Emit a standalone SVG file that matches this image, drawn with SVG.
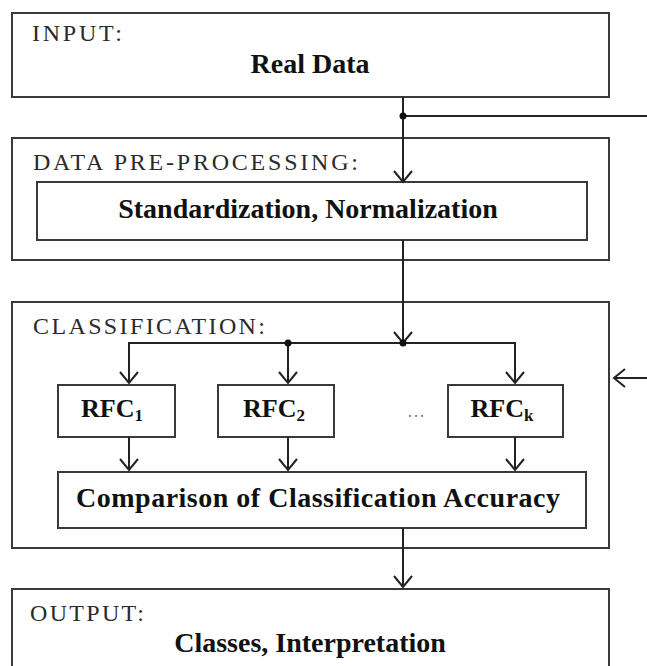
<svg xmlns="http://www.w3.org/2000/svg" width="647" height="666" viewBox="0 0 647 666">
<style>
.box{fill:#fff;stroke:#3a3a3a;stroke-width:2}
.lbl{font-family:"Liberation Serif",serif;font-size:24px;fill:#2a2a2a}
.main{font-family:"Liberation Serif",serif;font-size:28px;font-weight:bold;fill:#111;text-anchor:middle}
.rfc{font-family:"Liberation Serif",serif;font-size:26px;font-weight:bold;fill:#111;text-anchor:middle}
.sub{font-size:17px}
.conn{fill:none;stroke:#222;stroke-width:2}
.dot{fill:#111}
</style>
<defs>
<marker id="arr" viewBox="-14 -11 16 22" refX="0" refY="0" markerWidth="16" markerHeight="22" markerUnits="userSpaceOnUse" orient="auto">
<path d="M-11,-9 L0,0 L-11,9" fill="none" stroke="#222" stroke-width="2"/>
</marker>
</defs>
<g id="input">
<rect class="box" x="12" y="13" width="597" height="84"/>
<text class="lbl" x="32" y="41" textLength="90" lengthAdjust="spacing">INPUT:</text>
<text class="main" x="310" y="73">Real Data</text>
</g>
<g id="preprocessing">
<rect class="box" x="12" y="138" width="597" height="122"/>
<text class="lbl" x="33" y="170" textLength="325" lengthAdjust="spacing">DATA PRE-PROCESSING:</text>
</g>
<g id="standardization">
<rect class="box" x="37" y="182" width="550" height="58"/>
<text class="main" x="308" y="218">Standardization, Normalization</text>
</g>
<g id="classification">
<rect class="box" x="12" y="302" width="597" height="246"/>
<text class="lbl" x="33" y="334" textLength="232" lengthAdjust="spacing">CLASSIFICATION:</text>
<text x="416" y="417" font-family="Liberation Serif,serif" font-size="18" fill="#888" text-anchor="middle">…</text>
</g>
<g id="rfc1">
<rect class="box" x="58" y="385" width="117" height="52"/>
<text class="rfc" x="112" y="417">RFC<tspan class="sub" dy="4">1</tspan></text>
</g>
<g id="rfc2">
<rect class="box" x="218" y="385" width="116" height="52"/>
<text class="rfc" x="274" y="417">RFC<tspan class="sub" dy="4">2</tspan></text>
</g>
<g id="rfck">
<rect class="box" x="448" y="385" width="115" height="52"/>
<text class="rfc" x="502" y="417">RFC<tspan class="sub" dy="4">k</tspan></text>
</g>
<g id="comparison">
<rect class="box" x="58" y="472" width="528" height="56"/>
<text class="main" x="318" y="507" textLength="484" lengthAdjust="spacing">Comparison of Classification Accuracy</text>
</g>
<g id="output">
<rect class="box" x="12" y="589" width="597" height="90"/>
<text class="lbl" x="30" y="621" textLength="114" lengthAdjust="spacing">OUTPUT:</text>
<text class="main" x="310" y="652">Classes, Interpretation</text>
</g>
<g id="connectors">
<path class="conn" d="M403,97 V182" marker-end="url(#arr)"/>
<path class="conn" d="M403,116 H647"/>
<path class="conn" d="M403,240 V343" marker-end="url(#arr)"/>
<path class="conn" d="M403,343 H129 V383" marker-end="url(#arr)"/>
<path class="conn" d="M403,343 H515 V383" marker-end="url(#arr)"/>
<path class="conn" d="M288,343 V383" marker-end="url(#arr)"/>
<path class="conn" d="M129,437 V470" marker-end="url(#arr)"/>
<path class="conn" d="M288,437 V470" marker-end="url(#arr)"/>
<path class="conn" d="M515,437 V470" marker-end="url(#arr)"/>
<path class="conn" d="M403,528 V587" marker-end="url(#arr)"/>
<path class="conn" d="M647,378 H614" marker-end="url(#arr)"/>
<circle class="dot" cx="403" cy="116" r="3.5"/>
<circle class="dot" cx="403" cy="343" r="3.5"/>
<circle class="dot" cx="288" cy="343" r="3.5"/>
</g>
</svg>
